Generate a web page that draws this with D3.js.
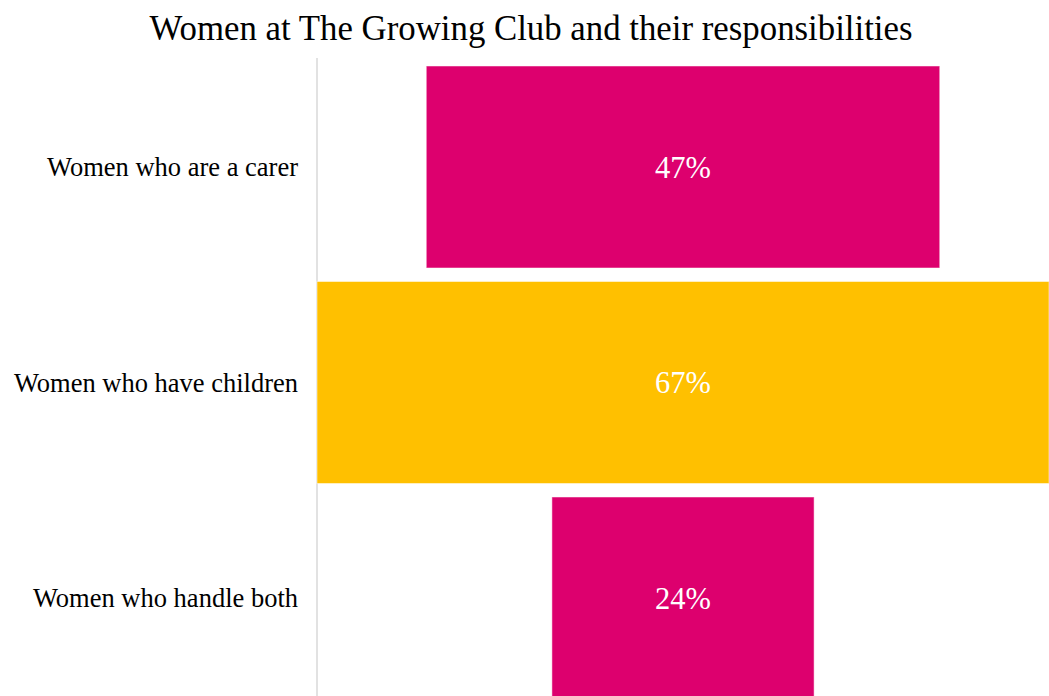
<!DOCTYPE html>
<html>
<head>
<meta charset="utf-8">
<script src="https://cdn.jsdelivr.net/npm/d3@7"></script>
<style>
  html, body { margin: 0; padding: 0; background: #fff; }
  svg { display: block; }
</style>
</head>
<body>
<svg id="chart" width="1049" height="696"></svg>
<script>
// Funnel-style data: share of women for each responsibility
const categories = ["Women who are a carer", "Women who have children", "Women who handle both"];
const values = [47, 67, 24];
const valueLabels = ["47%", "67%", "24%"];
const barColors = ["#DD006E", "#FFC000", "#DD006E"];
const title = "Women at The Growing Club and their responsibilities";

(function () {
  const W = 1049, H = 696;
  const margin = { left: 317, right: 0 };
  const plotTop = 59.25, step = 215.5;

  const svg = d3.select("#chart");
  const serif = "'Liberation Serif', 'Times New Roman', serif";

  // Bars are centred in the plot area, width proportional to value
  const plotW = W - margin.left - margin.right;
  const cx = margin.left + plotW / 2;
  const w = d3.scaleLinear().domain([0, d3.max(values)]).range([0, plotW]);

  const y = d3.scaleBand()
    .domain(categories)
    .range([plotTop, plotTop + step * categories.length])
    .paddingInner(0.0626)
    .paddingOuter(0.0313);

  svg.append("text")
    .attr("x", 531).attr("y", 40)
    .attr("text-anchor", "middle")
    .attr("font-family", serif)
    .attr("font-size", 34.8)
    .attr("fill", "#000")
    .text(title);

  // category axis line
  svg.append("line")
    .attr("x1", margin.left).attr("x2", margin.left)
    .attr("y1", 58).attr("y2", H)
    .attr("stroke", "#d9d9d9").attr("stroke-width", 1.5);

  const rows = svg.append("g").selectAll("g")
    .data(categories.map((c, i) => ({ c, v: values[i], l: valueLabels[i], col: barColors[i] })))
    .join("g");

  rows.append("rect")
    .attr("x", d => cx - w(d.v) / 2)
    .attr("y", d => y(d.c))
    .attr("width", d => w(d.v))
    .attr("height", y.bandwidth())
    .attr("fill", d => d.col)
    .attr("stroke", "#fff")
    .attr("stroke-opacity", 0.5)
    .attr("stroke-width", 1);

  rows.append("text")
    .attr("x", cx)
    .attr("y", d => y(d.c) + y.bandwidth() / 2)
    .attr("dy", "0.35em")
    .attr("text-anchor", "middle")
    .attr("font-family", serif)
    .attr("font-size", 30.5)
    .attr("fill", "#fff")
    .text(d => d.l);

  rows.append("text")
    .attr("x", 298)
    .attr("y", d => y(d.c) + y.bandwidth() / 2)
    .attr("dy", "0.35em")
    .attr("text-anchor", "end")
    .attr("font-family", serif)
    .attr("font-size", 26.5)
    .attr("fill", "#000")
    .text(d => d.c);
})();
</script>
</body>
</html>
